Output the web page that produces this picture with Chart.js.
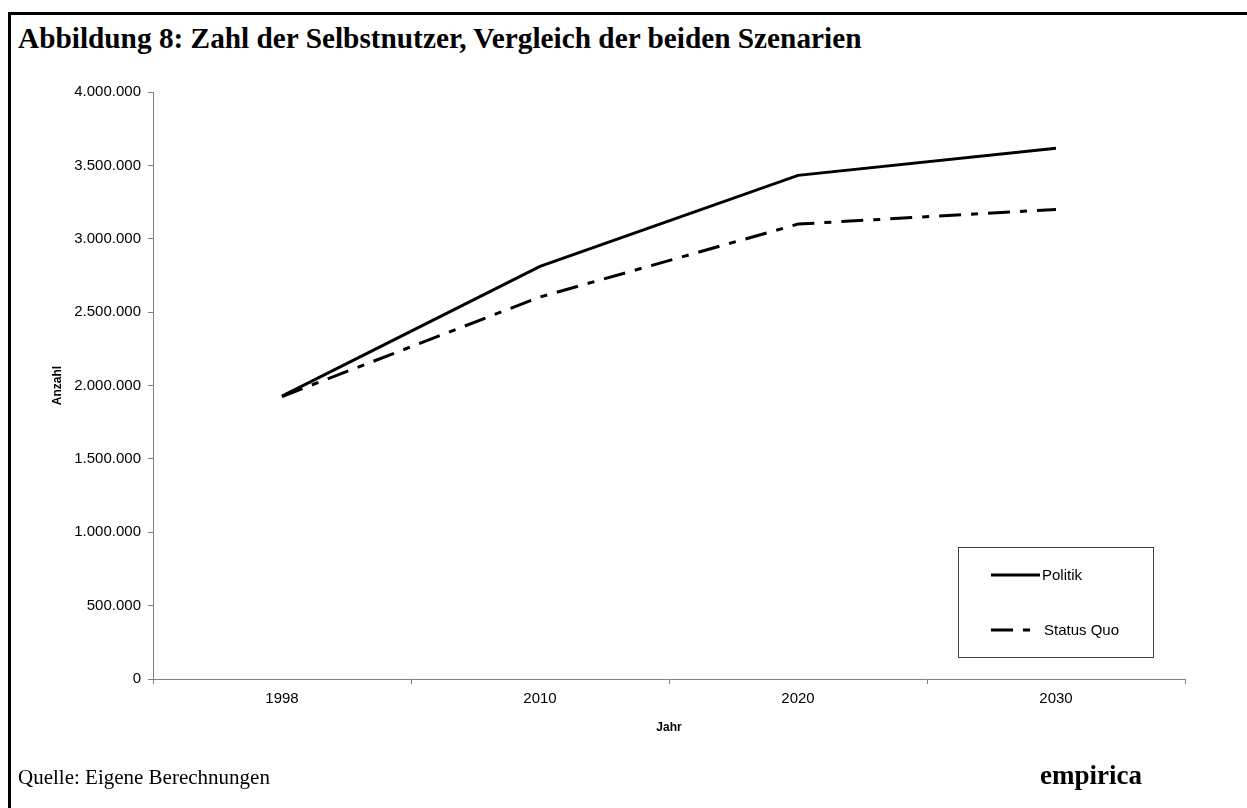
<!DOCTYPE html>
<html>
<head>
<meta charset="utf-8">
<script src="https://cdn.jsdelivr.net/npm/chart.js@4/dist/chart.umd.min.js"></script>
<style>
  html, body { margin: 0; padding: 0; background: #fff; }
  body { width: 1247px; height: 808px; position: relative; overflow: hidden; }
  #frame { position: absolute; left: 8px; top: 12px; width: 1400px; height: 1000px;
           border-top: 3px solid #000; border-left: 3px solid #000; }
  #title { position: absolute; left: 18px; top: 22px; font: bold 29.3px "Liberation Serif", "Times New Roman", serif; white-space: nowrap; }
  #source { position: absolute; left: 18px; top: 765px; font: 21px "Liberation Serif", "Times New Roman", serif; }
  #brand { position: absolute; left: 1040px; top: 760px; font: bold 27px "Liberation Serif", "Times New Roman", serif; }
  #wrap { position: absolute; left: 0; top: 0; width: 1247px; height: 808px; }
</style>
</head>
<body>
<div id="frame"></div>
<div id="title">Abbildung 8: Zahl der Selbstnutzer, Vergleich der beiden Szenarien</div>
<div id="wrap"><canvas id="chart"></canvas></div>
<div id="source">Quelle: Eigene Berechnungen</div>
<div id="brand">empirica</div>
<script>
const years = ["1998", "2010", "2020", "2030"];
const politik = [1928000, 2812000, 3432000, 3617000];
const statusQuo = [1925000, 2603000, 3100000, 3200000];
const seriesNames = ["Politik", "Status Quo"];

const axisGray = "#808080";
const sans = "'Liberation Sans', Arial, sans-serif";
const tickFont = { family: sans, size: 15 };

function formatDE(v) {
  return String(v).replace(/\B(?=(\d{3})+(?!\d))/g, ".");
}

// legend drawn as a framed box inside the plot, like the original
const boxLegend = {
  id: "boxLegend",
  afterDraw(chart) {
    const ctx = chart.ctx;
    const area = chart.chartArea;
    const right = area.right - 32, bottom = area.bottom - 22;
    const w = 195, h = 110;
    const left = right - w, top = bottom - h;
    ctx.save();
    ctx.fillStyle = "#fff";
    ctx.fillRect(left, top, w, h);
    ctx.strokeStyle = "#404040";
    ctx.lineWidth = 1;
    ctx.strokeRect(left + 0.5, top + 0.5, w, h);
    chart.data.datasets.forEach((ds, i) => {
      const y = top + 28 + i * 55;
      ctx.beginPath();
      ctx.setLineDash(ds.borderDash || []);
      ctx.lineWidth = ds.borderWidth;
      ctx.strokeStyle = ds.borderColor;
      ctx.moveTo(left + 33, y);
      ctx.lineTo(left + 82, y);
      ctx.stroke();
      ctx.setLineDash([]);
      ctx.fillStyle = "#000";
      ctx.font = "15px " + sans;
      ctx.textBaseline = "middle";
      ctx.fillText(ds.label, left + (i === 0 ? 84 : 86), y + 1);
    });
    ctx.restore();
  }
};

new Chart(document.getElementById("chart"), {
  type: "line",
  data: {
    labels: years,
    datasets: [
      { label: seriesNames[0], data: politik, borderColor: "#000", borderWidth: 3,
        pointRadius: 0, tension: 0, fill: false },
      { label: seriesNames[1], data: statusQuo, borderColor: "#000", borderWidth: 3,
        borderDash: [22, 10, 7, 10], pointRadius: 0, tension: 0, fill: false }
    ]
  },
  options: {
    responsive: true,
    maintainAspectRatio: false,
    animation: false,
    layout: { padding: { left: 0, top: 92, right: 62, bottom: 69 } },
    plugins: { legend: { display: false }, tooltip: { enabled: false } },
    scales: {
      x: {
        offset: true,
        grid: { offset: true, drawOnChartArea: false, drawTicks: true, tickLength: 5, color: axisGray },
        border: { color: axisGray, width: 1 },
        ticks: { color: "#000", font: tickFont, padding: 6, maxRotation: 0 },
        title: { display: true, text: "Jahr", color: "#000",
                 font: { family: sans, size: 12, weight: "bold" },
                 padding: { top: 8, bottom: 4 } },
        afterFit(scale) { scale.height = 60; }
      },
      y: {
        min: 0, max: 4000000,
        grid: { drawOnChartArea: false, drawTicks: true, tickLength: 5, color: axisGray },
        border: { color: axisGray, width: 1 },
        ticks: { stepSize: 500000, color: "#000", font: tickFont, padding: 7,
                 callback: v => formatDE(v) },
        title: { display: true, text: "Anzahl", color: "#000",
                 font: { family: sans, size: 12, weight: "bold" },
                 padding: { top: 50, bottom: 0 } },
        afterFit(scale) { scale.width = 153; }
      }
    }
  },
  plugins: [boxLegend]
});
</script>
</body>
</html>
